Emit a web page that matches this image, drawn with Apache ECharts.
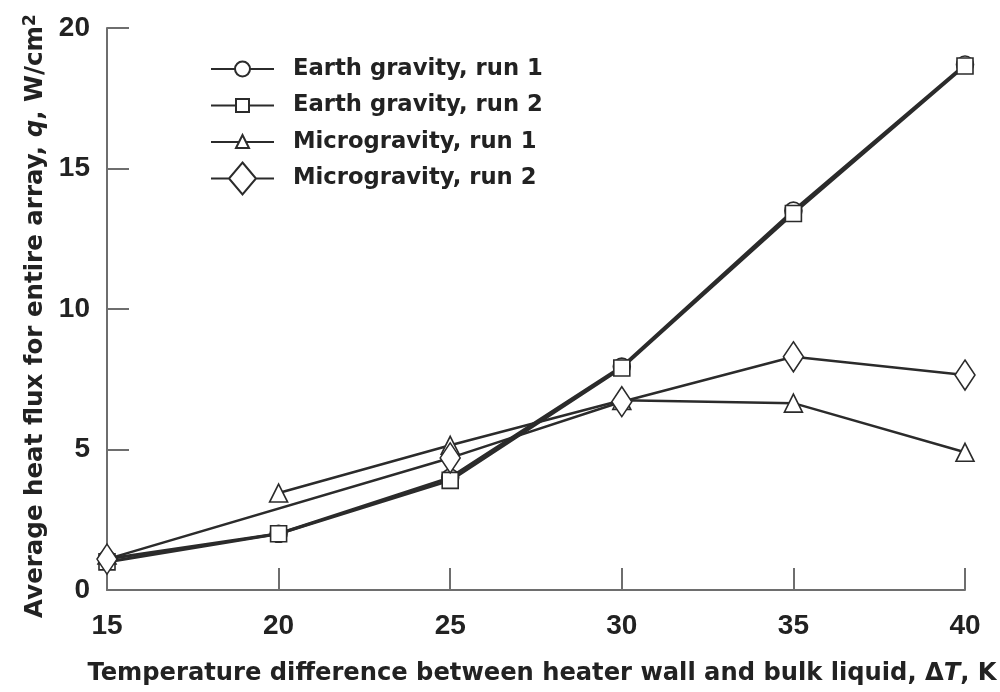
<!DOCTYPE html>
<html>
<head>
<meta charset="utf-8">
<script src="https://cdn.jsdelivr.net/npm/echarts@6/dist/echarts.min.js"></script>
<style>
html,body{margin:0;padding:0;background:#fff;overflow:hidden;}
#chart{width:1000px;height:692px;}
</style>
</head>
<body>
<div id="chart"></div>
<script>
// Data
var xTicks = [15, 20, 25, 30, 35, 40];
var earthRun1X = [15, 20, 25, 30, 35, 40];
var earthRun1 = [1.1, 2.0, 4.0, 7.95, 13.5, 18.7];
var earthRun2X = [15, 20, 25, 30, 35, 40];
var earthRun2 = [1.0, 2.0, 3.9, 7.9, 13.4, 18.65];
var microRun1X = [15, 20, 25, 30, 35, 40];
var microRun1 = [1.25, 3.45, 5.15, 6.75, 6.65, 4.9];
var microRun1BreakAfter = [0]; // no line drawn between 15 and 20
var microRun2X = [15, 25, 30, 35, 40];
var microRun2 = [1.1, 4.7, 6.7, 8.3, 7.65];
var seriesNames = ['Earth gravity, run 1', 'Earth gravity, run 2', 'Microgravity, run 1', 'Microgravity, run 2'];

function pairs(xs, ys, breaks) {
  var out = [];
  for (var i = 0; i < xs.length; i++) {
    out.push([xs[i], ys[i]]);
    if (breaks && breaks.indexOf(i) >= 0) out.push(['-', '-']);
  }
  return out;
}

var lineColor = '#2b2b2b';
var textColor = '#222222';
var font = '"DejaVu Sans", "Liberation Sans", Arial, sans-serif';
var numFont = '"Liberation Sans", Arial, Helvetica, sans-serif';

// legend glyphs: line + marker (box 63 x 32)
var bbox = 'M31.5,0 M31.5,32 ';
var legendIcons = [
  'path://' + bbox + 'M0,16 L24,16 M39,16 L63,16 M24,16 A7.5,7.5 0 1 1 39,16 A7.5,7.5 0 1 1 24,16 Z',
  'path://' + bbox + 'M0,16 L25,16 M38,16 L63,16 M25,9.5 L38,9.5 L38,22.5 L25,22.5 Z',
  'path://' + bbox + 'M0,16 L28,16 M35,16 L63,16 M25,22 L31.5,9 L38,22 Z',
  'path://' + bbox + 'M0,16 L18,16 M45,16 L63,16 M31.5,0 L45,16 L31.5,32 L18,16 Z'
];

function mk(name, data, symbol, size, width) {
  return {
    name: name, type: 'line', data: data, symbol: symbol, symbolSize: size,
    connectNulls: false,
    lineStyle: {color: lineColor, width: width},
    itemStyle: {color: '#fff', borderColor: lineColor, borderWidth: 1.6},
    emphasis: {disabled: true},
    animation: false
  };
}

var chart = echarts.init(document.getElementById('chart'), null, {renderer: 'canvas'});
chart.setOption({
  backgroundColor: '#fff',
  animation: false,
  grid: {left: 107, right: 35, top: 28, bottom: 102, containLabel: false, outerBoundsMode: 'none'},
  legend: {
    orient: 'vertical', left: 205, top: 47,
    itemWidth: 63, itemHeight: 32, itemGap: 2.5,
    data: seriesNames.map(function (n, i) {
      return {name: n, icon: legendIcons[i],
        itemStyle: {color: '#fff', borderColor: lineColor, borderWidth: 2}};
    }),
    textStyle: {fontFamily: font, fontWeight: 'bold', fontSize: 22.7, color: textColor, padding: [0, 0, 0, 14]},
    inactiveColor: textColor
  },
  xAxis: {
    type: 'value', min: 15, max: 40, interval: 5,
    name: '{a|Temperature difference between heater wall and bulk liquid, Δ}{i|T}{a|, K}',
    nameLocation: 'middle', nameGap: 72,
    nameTextStyle: {
      padding: [0, 0, 0, 12],
      rich: {
        a: {fontFamily: font, fontWeight: 'bold', fontSize: 24.2, color: textColor},
        i: {fontFamily: font, fontWeight: 'bold', fontSize: 24.2, color: textColor, fontStyle: 'italic'}
      }
    },
    axisLine: {lineStyle: {color: '#6e6e6e', width: 2}},
    axisTick: {inside: true, length: 22, lineStyle: {color: '#6e6e6e', width: 2}},
    axisLabel: {margin: 22, fontFamily: numFont, fontWeight: 'bold', fontSize: 28, color: textColor,
      customValues: xTicks},
    splitLine: {show: false}
  },
  yAxis: {
    type: 'value', min: 0, max: 20, interval: 5,
    name: '{a|Average heat flux for entire array, }{i|q}{a|, W/cm}{s|2}',
    nameLocation: 'middle', nameGap: 58,
    nameTextStyle: {
      padding: [0, 14, 0, 0],
      rich: {
        a: {fontFamily: font, fontWeight: 'bold', fontSize: 24.5, color: textColor},
        i: {fontFamily: font, fontWeight: 'bold', fontSize: 24.5, color: textColor, fontStyle: 'italic'},
        s: {fontFamily: font, fontWeight: 'bold', fontSize: 17, color: textColor, verticalAlign: 'top', padding: [0, 0, 10, 0]}
      }
    },
    axisLine: {show: true, lineStyle: {color: '#6e6e6e', width: 2}},
    axisTick: {show: true, inside: true, length: 22, lineStyle: {color: '#6e6e6e', width: 2}},
    axisLabel: {margin: 17, fontFamily: numFont, fontWeight: 'bold', fontSize: 28, color: textColor},
    splitLine: {show: false}
  },
  series: [
    mk(seriesNames[0], pairs(earthRun1X, earthRun1), 'circle', 17, 3),
    mk(seriesNames[1], pairs(earthRun2X, earthRun2), 'rect', 16, 3),
    mk(seriesNames[2], pairs(microRun1X, microRun1, microRun1BreakAfter), 'triangle', 18, 2.5),
    mk(seriesNames[3], pairs(microRun2X, microRun2), 'diamond', [20, 30], 2.5)
  ]
});
</script>
</body>
</html>
